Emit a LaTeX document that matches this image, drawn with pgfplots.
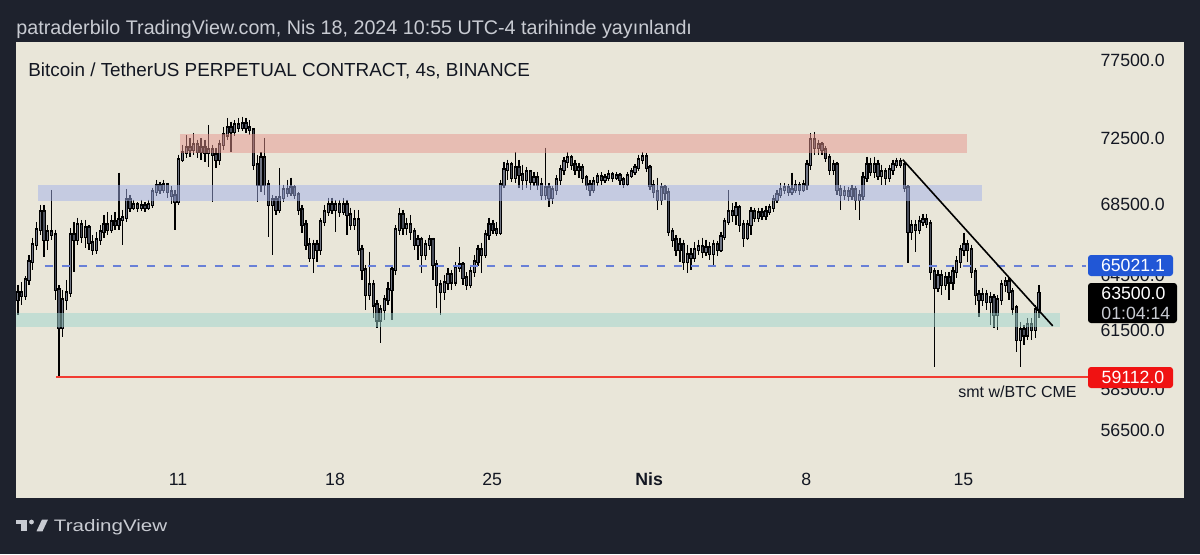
\documentclass[border=0pt]{standalone}
\usepackage{pgfplots}
\pgfplotsset{compat=1.18}
\usepackage{pgfplotstable}
\usepackage{fontspec}
\setmainfont{Liberation Sans}
\definecolor{darkbg}{RGB}{30,34,45}
\definecolor{panelbg}{RGB}{233,230,217}
\definecolor{hdr}{RGB}{200,203,210}
\definecolor{tick}{RGB}{19,23,34}
\definecolor{upfill}{RGB}{112,117,132}
\definecolor{dnfill}{RGB}{72,77,90}
\definecolor{zred}{RGB}{230,149,142}
\definecolor{zblue}{RGB}{162,177,234}
\definecolor{zgreen}{RGB}{158,213,206}
\definecolor{dashclr}{RGB}{105,128,215}
\definecolor{redlineclr}{RGB}{242,60,50}
\definecolor{tagblue}{RGB}{33,87,214}
\definecolor{tagred}{RGB}{240,18,18}

\pgfplotstableread{
i o h l c
0 63152 63966 62347 63531
1 63531 64130 62882 63368
2 63368 64461 63152 64240
3 64240 65628 63966 65237
4 65237 66589 64792 66191
5 66191 67506 65909 67046
6 67046 68494 66760 68086
7 68086 68494 65516 66475
8 66475 67333 65909 66932
9 66932 69378 66475 66760
10 66760 67046 63152 63694
11 63694 63966 59112 61657
12 61657 63694 61186 63152
13 63152 64240 62614 63531
14 63531 67161 63314 66760
15 66760 67506 64682 66475
16 66475 67737 66191 67333
17 67333 67621 66305 66646
18 66646 67621 66022 67161
19 67161 67333 65909 66305
20 66305 66760 65628 65909
21 65909 66932 65684 66475
22 66475 67333 66191 66932
23 66932 67911 66589 67333
24 67333 68086 66760 67046
25 67046 67911 66874 67506
26 67506 68086 67046 67333
27 67333 70393 67046 67621
28 67621 68202 66191 67737
29 67737 69437 67506 68787
30 68787 69082 68086 68319
31 68319 68787 68202 68494
32 68494 68670 68086 68319
33 68319 68787 68144 68436
34 68436 68670 68086 68319
35 68319 68787 68202 68494
36 68494 69497 68319 69260
37 69260 69973 69023 69616
38 69616 69854 69141 69378
39 69378 69973 69200 69675
40 69675 69794 68905 69260
41 69260 69616 68553 69023
42 69023 69378 67046 68670
43 68670 71485 68494 71180
44 71180 72097 71058 71607
45 71607 72715 71302 71913
46 71913 72530 71363 71790
47 71790 72840 71485 72097
48 72097 72406 71302 71668
49 71668 72530 71180 71913
50 71913 72406 71058 71607
51 71607 73340 70755 71790
52 71790 72097 68670 71485
53 71485 71913 70694 71180
54 71180 72406 70876 72097
55 72097 73215 71790 72715
56 72715 73780 72406 73152
57 73152 73528 71668 72902
58 72902 73654 72653 73340
59 73340 73780 72902 73152
60 73152 73843 72965 73403
61 73403 73780 72840 73152
62 73152 73654 72715 73027
63 73027 73152 70573 70876
64 70876 71485 68670 69675
65 69675 71668 69260 71302
66 71302 72530 69082 69675
67 69675 69973 66646 68494
68 68494 69082 65628 68787
69 68787 69023 67911 68202
70 68202 70694 68027 68905
71 68905 69675 68670 69378
72 69378 69973 68964 69200
73 69200 70093 69023 69497
74 69497 69675 68846 69082
75 69082 69260 67911 68202
76 68202 68494 66874 67333
77 67333 67621 65909 66191
78 66191 66589 65237 65460
79 65460 66475 64626 66191
80 66191 66475 65237 65909
81 65909 67737 65628 67506
82 67506 68494 67276 68086
83 68086 68905 67853 68494
84 68494 68905 67969 68202
85 68202 68787 66932 68494
86 68494 68787 67795 68086
87 68086 68905 67911 68494
88 68494 68787 66760 67911
89 67911 68319 67046 67333
90 67333 68202 67046 67621
91 67621 68202 65628 65909
92 65909 66191 64240 64792
93 64792 65070 62614 63422
94 63422 65797 63152 63966
95 63966 64240 62187 62882
96 62882 63152 61657 62080
97 62080 62882 60873 62614
98 62614 63422 62080 63152
99 63152 64130 62882 63694
100 63694 65070 62080 64792
101 64792 67333 64516 67046
102 67046 68319 66760 67911
103 67911 68202 66760 67161
104 67161 67737 66760 67333
105 67333 67911 66475 66932
106 66932 67161 65909 66191
107 66191 66760 65348 66475
108 66475 66646 64626 65628
109 65628 66475 65348 66191
110 66191 66760 65909 66475
111 66475 66589 64240 65070
112 65070 65348 62721 63966
113 63966 64240 62347 63585
114 63585 64516 63152 64076
115 64076 64903 63694 64516
116 64516 64792 63694 64130
117 64130 65237 63912 64903
118 64903 66078 64682 65070
119 65070 65237 63966 64350
120 64350 64682 63694 63966
121 63966 65070 63803 64682
122 64682 65628 64406 65237
123 65237 66191 65014 65909
124 65909 66305 64626 65628
125 65628 67046 65460 66760
126 66760 67737 66475 67333
127 67333 67621 66817 67046
128 67046 67506 66703 66874
129 66874 69973 66760 69675
130 69675 71058 69497 70573
131 70573 71180 69973 70876
132 70876 71058 69854 70093
133 70093 71668 69794 70694
134 70694 71180 69497 70273
135 70273 70876 69378 69973
136 69973 70755 69497 70453
137 70453 70573 69378 69854
138 69854 70453 69616 70093
139 70093 70453 69378 69675
140 69675 70093 68787 69082
141 69082 71913 68787 69497
142 69497 69794 68377 68905
143 68905 69616 68553 69378
144 69378 70273 69082 69973
145 69973 70876 69675 70573
146 70573 71363 70273 71058
147 71058 71668 70694 71302
148 71302 71485 70573 70876
149 70876 71180 70273 70573
150 70573 70998 70093 70694
151 70694 70937 69794 70093
152 70093 70273 69378 69675
153 69675 69973 69023 69378
154 69378 70153 69200 69854
155 69854 70393 69616 70153
156 70153 70453 69675 69973
157 69973 70333 69794 70093
158 70093 70573 69913 70273
159 70273 70453 69854 70093
160 70093 70453 69973 70213
161 70213 70393 69675 69973
162 69973 70153 69497 69735
163 69735 70453 69616 70213
164 70213 70694 70093 70453
165 70453 70937 70273 70694
166 70694 71485 70513 71180
167 71180 71668 70937 71363
168 71363 71607 70453 70694
169 70694 70876 69378 69616
170 69616 69973 68905 69260
171 69260 70093 68202 68787
172 68787 69794 68494 69497
173 69497 69675 68787 69200
174 69200 69497 66703 66932
175 66932 67161 66078 66475
176 66475 66760 65572 65909
177 65909 66589 65237 66191
178 66191 66475 64792 65237
179 65237 66191 64626 65628
180 65628 66022 64792 65460
181 65460 66361 65237 65909
182 65909 66475 65628 66078
183 66078 66589 65460 65797
184 65797 66475 65572 66022
185 66022 66361 65348 65684
186 65684 66475 65070 66191
187 66191 66418 65572 65909
188 65909 66932 65797 66646
189 66646 67737 66475 67506
190 67506 69378 67333 68086
191 68086 68611 67506 67911
192 67911 68670 67333 68319
193 68319 68494 66932 67333
194 67333 67621 66078 66589
195 66589 67621 66475 67333
196 67333 68377 66760 68086
197 68086 68319 67506 67737
198 67737 68319 67506 68027
199 68027 68319 67621 67853
200 67853 68436 67621 68086
201 68086 68553 67911 68319
202 68319 69082 68086 68787
203 68787 69378 68611 69082
204 69082 69794 68905 69378
205 69378 69794 69141 69497
206 69497 69735 69023 69260
207 69260 70393 69082 69378
208 69378 69973 69200 69616
209 69616 69854 69082 69378
210 69378 69973 69260 69675
211 69675 71180 69378 70876
212 70876 72840 70573 72406
213 72406 72902 71485 71913
214 71913 72406 71485 72097
215 72097 72283 71485 71790
216 71790 72036 71058 71302
217 71302 71546 70273 70573
218 70573 71180 70273 70876
219 70876 71058 69082 69378
220 69378 69675 68202 69082
221 69082 69616 68787 69260
222 69260 69556 68728 69023
223 69023 69675 68787 69378
224 69378 69616 68202 68787
225 68787 69378 67621 69023
226 69023 70453 68787 70093
227 70093 71363 69854 70876
228 70876 71302 70213 70453
229 70453 71363 70093 70876
230 70876 71180 69973 70213
231 70213 70876 69675 70453
232 70453 70694 69675 70093
233 70093 70876 69854 70573
234 70573 71180 70273 70876
235 70876 71302 70694 71058
236 71058 71302 70694 70876
237 70876 71058 69260 69497
238 69497 69675 65181 66932
239 66932 67621 66475 67276
240 67276 67621 65797 67046
241 67046 67853 66817 67506
242 67506 67969 67276 67621
243 67621 67969 67161 67391
244 67391 67621 64240 64682
245 64682 64903 59637 63803
246 63803 64792 63585 64461
247 64461 64792 63422 63966
248 63966 64682 63694 64350
249 64350 64682 63152 64130
250 64130 65070 63694 64682
251 64682 65572 64350 65237
252 65237 66191 64903 65909
253 65909 66874 65572 66191
254 66191 66475 65237 65909
255 65909 66191 64350 64682
256 64682 64903 62882 63422
257 63422 63694 62240 63152
258 63152 63803 62828 63422
259 63422 63694 62614 63044
260 63044 63585 61815 63260
261 63260 63476 61657 62347
262 62347 63422 61552 63152
263 63152 64240 62882 63966
264 63966 64406 63585 64130
265 64130 64350 63152 63585
266 63585 63803 62347 62721
267 62721 62882 60406 61029
268 61029 61974 59637 61552
269 61552 61815 60769 61290
270 61290 62187 61029 61815
271 61815 62187 61029 61552
272 61552 62882 61133 62614
273 62614 63966 62187 63500
}\candles

% build segment lists (x, low)-(x, high) and (x, open)-(x, close) from the table
\def\wicks{}\def\upb{}\def\dnb{}
\pgfplotsforeachungrouped \r in {0,1,...,273}{%
  \pgfplotstablegetelem{\r}{o}\of\candles \edef\co{\pgfplotsretval}%
  \pgfplotstablegetelem{\r}{h}\of\candles \edef\ch{\pgfplotsretval}%
  \pgfplotstablegetelem{\r}{l}\of\candles \edef\cl{\pgfplotsretval}%
  \pgfplotstablegetelem{\r}{c}\of\candles \edef\cc{\pgfplotsretval}%
  \xdef\wicks{\wicks (\r,\ch) (\r,\cl) (\r,nan)}%
  \ifnum\cc<\co\relax
    \xdef\dnb{\dnb (\r,\co) (\r,\cc) (\r,nan)}%
  \else
    \xdef\upb{\upb (\r,\co) (\r,\cc) (\r,nan)}%
  \fi
}

\begin{document}
\begin{tikzpicture}
\begin{scope}[x=0.5pt,y=0.5pt]
\fill[darkbg] (0,0) rectangle (1200,554);
\fill[panelbg] (16,56) rectangle (1184,512);
\node[anchor=base west, inner sep=0pt, text=hdr, font=\fontsize{9.85}{11}\selectfont] at (16,520) {patraderbilo TradingView.com, Nis 18, 2024 10:55 UTC-4 tarihinde yayınlandı};
\end{scope}
\begin{axis}[
  at={(8pt,28pt)}, anchor=south west,
  width=584pt, height=228pt, scale only axis,
  xmin=-0.5, xmax=311.8,
  ymode=log, ymin=53320, ymax=78732,
  axis line style={draw=none},
  major tick length=0pt, minor tick num=0,
  /pgf/number format/assume math mode=true,
  xtick={42.8,84.8,126.8,168.8,210.8,252.8},
  xticklabels={11,18,25,\textbf{Nis},8,15},
  xticklabel style={anchor=base, yshift=6pt, inner sep=0pt, text=tick, font=\fontsize{8.85}{10}\selectfont},
  ytick={56500,58500,61500,64500,68500,72500,77500},
  yticklabels={56500.0,58500.0,61500.0,64500.0,68500.0,72500.0,77500.0},
  yticklabel pos=right,
  yticklabel style={anchor=east, inner sep=0pt, xshift=-9.5pt, text=tick, font=\fontsize{8.85}{10}\selectfont},
  unbounded coords=jump,
]
\edef\tmp{\noexpand\addplot[draw=black, line width=0.65pt, mark=none] coordinates {\wicks};}\tmp
\edef\tmp{\noexpand\addplot[draw=black, line width=1.65pt, line cap=rect, mark=none] coordinates {\upb};}\tmp
\edef\tmp{\noexpand\addplot[draw=black, line width=1.65pt, line cap=rect, mark=none] coordinates {\dnb};}\tmp
\edef\tmp{\noexpand\addplot[draw=upfill, line width=0.6pt, mark=none] coordinates {\upb};}\tmp
\edef\tmp{\noexpand\addplot[draw=dnfill, line width=0.6pt, mark=none] coordinates {\dnb};}\tmp
% zones
\addplot[draw=none, fill=zred, fill opacity=0.5] coordinates {(43.3,71607) (253.7,71607) (253.7,72777) (43.3,72777)};
\addplot[draw=none, fill=zblue, fill opacity=0.5] coordinates {(5.4,68690) (257.7,68690) (257.7,69675) (5.4,69675)};
\addplot[draw=none, fill=zgreen, fill opacity=0.5] coordinates {(-0.6,61725) (278.6,61725) (278.6,62437) (-0.6,62437)};
% lines
\addplot[color=dashclr, draw=dashclr, line width=1pt, dash pattern=on 4pt off 4.5pt, mark=none] coordinates {(7.2,65021.1) (285.5,65021.1)};
\addplot[color=redlineclr, draw=redlineclr, line width=0.75pt, solid, mark=none] coordinates {(10.2,59112) (286.1,59112)};
\addplot[color=black, draw=black, line width=0.8pt, solid, mark=none] coordinates {(236.6,71180) (276.7,61760)};
\end{axis}
\begin{scope}[x=0.5pt,y=0.5pt]
% chart title
\node[anchor=base west, inner sep=0pt, text=tick, font=\fontsize{9.44}{11}\selectfont] at (28,478) {Bitcoin / TetherUS PERPETUAL CONTRACT, 4s, BINANCE};
\node[anchor=base west, inner sep=0pt, text=tick, font=\fontsize{8}{10}\selectfont] at (958,157) {smt w/BTC CME};
% price tags
\fill[tagblue, rounded corners=1.5pt] (1088,278) rectangle (1173,299);
\node[text=white, inner sep=0pt, font=\fontsize{8.85}{10}\selectfont] at (1133,288.5) {65021.1};
\fill[black, rounded corners=1.5pt] (1088,231) rectangle (1177,271);
\node[anchor=west, text=white, inner sep=0pt, font=\fontsize{8.85}{10}\selectfont] at (1101,261) {63500.0};
\node[anchor=west, text=hdr, inner sep=0pt, font=\fontsize{8.85}{10}\selectfont] at (1101,241) {01:04:14};
\fill[tagred, rounded corners=1.5pt] (1088,166) rectangle (1173,187);
\node[text=white, inner sep=0pt, font=\fontsize{8.85}{10}\selectfont] at (1133,176.5) {59112.0};
% logo
\fill[hdr] (15.5,34.5) rectangle (27,30.5);
\fill[hdr] (21,34.5) rectangle (27,22.7);
\fill[hdr] (31.5,32) circle (2.4);
\fill[hdr] (36.5,22.7) -- (42,34.5) -- (48,34.5) -- (42.5,22.7) -- cycle;
\node[anchor=base west, inner sep=0pt, text=hdr, font=\fontsize{8.3}{10}\selectfont, xscale=1.24] at (53.5,23) {TradingView};
\end{scope}
\end{tikzpicture}
\end{document}
